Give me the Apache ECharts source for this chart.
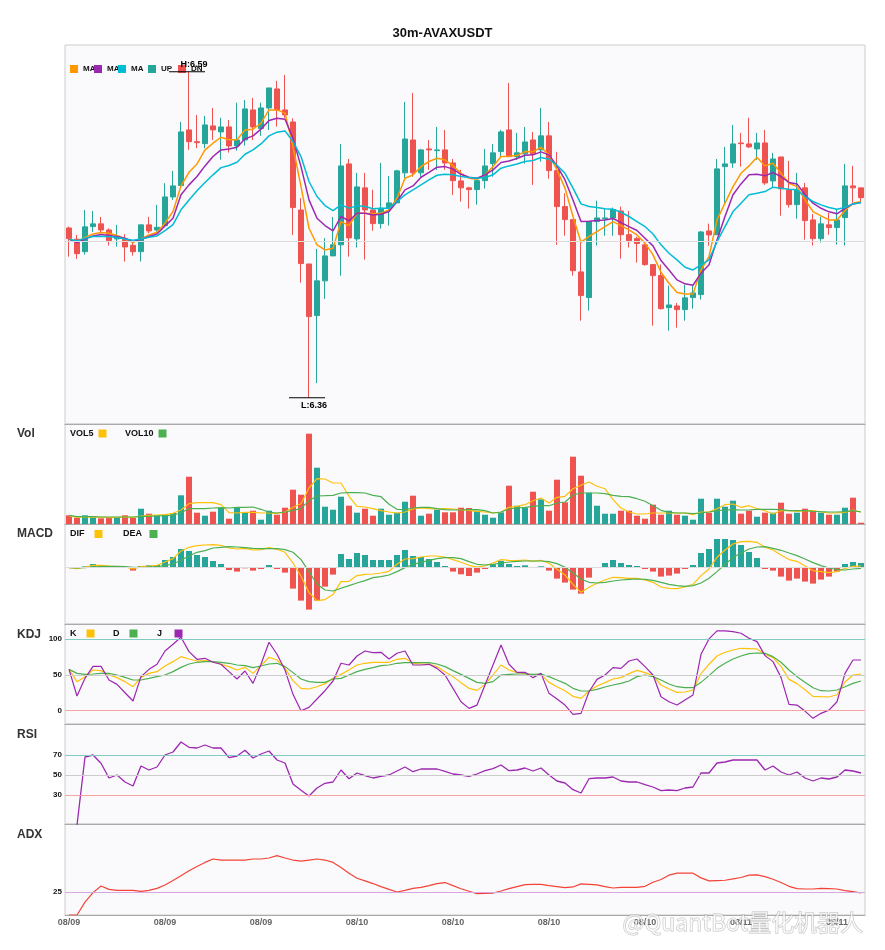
<!DOCTYPE html>
<html lang="en">
<head>
<meta charset="UTF-8">
<title>30m-AVAXUSDT</title>
<script src="https://cdn.jsdelivr.net/npm/echarts/dist/echarts.min.js"></script>
<style>
  html, body { margin: 0; padding: 0; background: #fff; }
  #main { width: 885px; height: 950px; }
</style>
</head>
<body>
<div id="main"></div>
<script>
// candles: [open, close, low, high]
const ohlc = [
  [6.4797, 6.4722, 6.4595, 6.4807], [6.4718, 6.4616, 6.4579, 6.4748], [6.4630, 6.4805, 6.4609, 6.4924],
  [6.4807, 6.4826, 6.4769, 6.4917], [6.4826, 6.4783, 6.4760, 6.4875], [6.4783, 6.4708, 6.4673, 6.4795],
  [6.4720, 6.4732, 6.4666, 6.4819], [6.4720, 6.4663, 6.4560, 6.4753], [6.4675, 6.4630, 6.4602, 6.4694],
  [6.4630, 6.4819, 6.4560, 6.4819], [6.4819, 6.4776, 6.4760, 6.4875], [6.4783, 6.4802, 6.4771, 6.4960],
  [6.4814, 6.5016, 6.4807, 6.5113], [6.5016, 6.5094, 6.4995, 6.5200], [6.5096, 6.5475, 6.5089, 6.5545],
  [6.5489, 6.5406, 6.5348, 6.5900], [6.5406, 6.5399, 6.5360, 6.5595], [6.5392, 6.5524, 6.5360, 6.5588],
  [6.5517, 6.5489, 6.5418, 6.5644], [6.5475, 6.5510, 6.5279, 6.5574], [6.5510, 6.5376, 6.5329, 6.5559],
  [6.5376, 6.5418, 6.5343, 6.5681], [6.5418, 6.5637, 6.5378, 6.5700], [6.5630, 6.5510, 6.5418, 6.5715],
  [6.5498, 6.5644, 6.5447, 6.5681], [6.5644, 6.5785, 6.5489, 6.5785], [6.5778, 6.5630, 6.5512, 6.5835],
  [6.5630, 6.5595, 6.5574, 6.5877], [6.5545, 6.4941, 6.4748, 6.5571], [6.4924, 6.4546, 6.4412, 6.5007],
  [6.4543, 6.4172, 6.3600, 6.4543], [6.4179, 6.4424, 6.3702, 6.4649], [6.4424, 6.4600, 6.4297, 6.4725],
  [6.4600, 6.4678, 6.4600, 6.4875], [6.4678, 6.5235, 6.4461, 6.5390], [6.5249, 6.4727, 6.4595, 6.5284],
  [6.4720, 6.5087, 6.4659, 6.5186], [6.5080, 6.4924, 6.4574, 6.5186], [6.4924, 6.4828, 6.4778, 6.5066],
  [6.4828, 6.4936, 6.4793, 6.5256], [6.4936, 6.4974, 6.4814, 6.5164], [6.4974, 6.5200, 6.4972, 6.5207],
  [6.5186, 6.5425, 6.5148, 6.5686], [6.5418, 6.5186, 6.5159, 6.5750], [6.5186, 6.5348, 6.5159, 6.5355],
  [6.5355, 6.5348, 6.5207, 6.5418], [6.5343, 6.5348, 6.5207, 6.5510], [6.5348, 6.5256, 6.5207, 6.5489],
  [6.5256, 6.5131, 6.5030, 6.5284], [6.5129, 6.5080, 6.4983, 6.5207], [6.5080, 6.5068, 6.4934, 6.5087],
  [6.5068, 6.5131, 6.4962, 6.5148], [6.5131, 6.5235, 6.5075, 6.5355], [6.5251, 6.5327, 6.5159, 6.5390],
  [6.5336, 6.5475, 6.5291, 6.5489], [6.5489, 6.5300, 6.5300, 6.5820], [6.5300, 6.5327, 6.5277, 6.5468],
  [6.5320, 6.5404, 6.5251, 6.5510], [6.5418, 6.5320, 6.5101, 6.5475], [6.5348, 6.5447, 6.5265, 6.5644],
  [6.5447, 6.5202, 6.5145, 6.5545], [6.5202, 6.4948, 6.4678, 6.5334], [6.4948, 6.4856, 6.4743, 6.5042],
  [6.4856, 6.4496, 6.4461, 6.4856], [6.4487, 6.4320, 6.4143, 6.4701], [6.4306, 6.4842, 6.4214, 6.4842],
  [6.4842, 6.4868, 6.4673, 6.4990], [6.4863, 6.4868, 6.4743, 6.4934], [6.4868, 6.4927, 6.4743, 6.4941],
  [6.4917, 6.4750, 6.4581, 6.4948], [6.4750, 6.4708, 6.4659, 6.4917], [6.4722, 6.4687, 6.4553, 6.4736],
  [6.4678, 6.4539, 6.4531, 6.4687], [6.4539, 6.4461, 6.4108, 6.4539], [6.4461, 6.4228, 6.4221, 6.4539],
  [6.4235, 6.4254, 6.4073, 6.4390], [6.4247, 6.4221, 6.4094, 6.4268], [6.4221, 6.4304, 6.4143, 6.4397],
  [6.4306, 6.4339, 6.4228, 6.4397], [6.4327, 6.4769, 6.4292, 6.4776], [6.4776, 6.4748, 6.4673, 6.4828],
  [6.4750, 6.5214, 6.4750, 6.5284], [6.5230, 6.5249, 6.4967, 6.5369], [6.5256, 6.5390, 6.5221, 6.5524],
  [6.5397, 6.5392, 6.5230, 6.5468], [6.5390, 6.5369, 6.5362, 6.5574], [6.5355, 6.5397, 6.5277, 6.5468],
  [6.5397, 6.5115, 6.5101, 6.5489], [6.5129, 6.5284, 6.5080, 6.5327], [6.5298, 6.5073, 6.4884, 6.5298],
  [6.5066, 6.4962, 6.4941, 6.5270], [6.4962, 6.5066, 6.4863, 6.5186], [6.5080, 6.4849, 6.4715, 6.5115],
  [6.4854, 6.4722, 6.4673, 6.4896], [6.4722, 6.4826, 6.4694, 6.4877], [6.4819, 6.4800, 6.4750, 6.4903],
  [6.4800, 6.4854, 6.4680, 6.4924], [6.4870, 6.5094, 6.4673, 6.5249], [6.5094, 6.5080, 6.4976, 6.5235],
  [6.5080, 6.5011, 6.4983, 6.5080]
];

const ma5 = [
  6.4720, 6.4701, 6.4730, 6.4755, 6.4765, 6.4760, 6.4744, 6.4720, 6.4694, 6.4720,
  6.4748, 6.4767, 6.4831, 6.4913, 6.5094, 6.5190, 6.5249, 6.5348, 6.5395, 6.5437,
  6.5419, 6.5419, 6.5489, 6.5494, 6.5536, 6.5630, 6.5630, 6.5607, 6.5372, 6.5089,
  6.4795, 6.4678, 6.4642, 6.4654, 6.4842, 6.4814, 6.4901, 6.4901, 6.4897, 6.4901,
  6.4925, 6.5007, 6.5148, 6.5172, 6.5230, 6.5266, 6.5289, 6.5278, 6.5235, 6.5183,
  6.5148, 6.5141, 6.5172, 6.5230, 6.5301, 6.5303, 6.5308, 6.5336, 6.5334, 6.5367,
  6.5313, 6.5207, 6.5078, 6.4878, 6.4697, 6.4737, 6.4772, 6.4807, 6.4842, 6.4814,
  6.4784, 6.4748, 6.4690, 6.4607, 6.4485, 6.4407, 6.4342, 6.4332, 6.4332, 6.4501,
  6.4595, 6.4854, 6.4972, 6.5089, 6.5183, 6.5235, 6.5296, 6.5235, 6.5254, 6.5183,
  6.5113, 6.5089, 6.4995, 6.4913, 6.4882, 6.4854, 6.4854, 6.4920, 6.4972, 6.4984
];
const ma10 = [
  6.4718, 6.4694, 6.4718, 6.4741, 6.4751, 6.4744, 6.4737, 6.4725, 6.4701, 6.4718,
  6.4737, 6.4755, 6.4812, 6.4866, 6.5031, 6.5101, 6.5160, 6.5235, 6.5301, 6.5348,
  6.5355, 6.5367, 6.5426, 6.5447, 6.5494, 6.5555, 6.5571, 6.5564, 6.5430, 6.5230,
  6.4995, 6.4866, 6.4814, 6.4777, 6.4878, 6.4847, 6.4901, 6.4901, 6.4889, 6.4894,
  6.4913, 6.4984, 6.5066, 6.5094, 6.5155, 6.5190, 6.5226, 6.5230, 6.5212, 6.5176,
  6.5155, 6.5148, 6.5172, 6.5207, 6.5259, 6.5270, 6.5287, 6.5310, 6.5313, 6.5334,
  6.5313, 6.5235, 6.5136, 6.4995, 6.4842, 6.4845, 6.4850, 6.4854, 6.4864, 6.4835,
  6.4807, 6.4779, 6.4725, 6.4671, 6.4567, 6.4501, 6.4431, 6.4403, 6.4393, 6.4478,
  6.4537, 6.4713, 6.4878, 6.5031, 6.5108, 6.5172, 6.5176, 6.5165, 6.5188, 6.5160,
  6.5118, 6.5108, 6.5031, 6.4972, 6.4936, 6.4911, 6.4897, 6.4936, 6.4967, 6.4976
];
const ma20 = [
  6.4718, 6.4706, 6.4725, 6.4737, 6.4737, 6.4737, 6.4730, 6.4720, 6.4711, 6.4720,
  6.4732, 6.4741, 6.4779, 6.4821, 6.4925, 6.4995, 6.5059, 6.5118, 6.5172, 6.5223,
  6.5238, 6.5261, 6.5317, 6.5348, 6.5390, 6.5447, 6.5473, 6.5482, 6.5407, 6.5301,
  6.5125, 6.5019, 6.4955, 6.4920, 6.4960, 6.4937, 6.4953, 6.4948, 6.4932, 6.4937,
  6.4937, 6.4984, 6.5031, 6.5066, 6.5101, 6.5136, 6.5169, 6.5176, 6.5172, 6.5160,
  6.5153, 6.5148, 6.5153, 6.5172, 6.5219, 6.5235, 6.5249, 6.5266, 6.5273, 6.5294,
  6.5282, 6.5240, 6.5183, 6.5078, 6.4967, 6.4948, 6.4941, 6.4932, 6.4929, 6.4908,
  6.4878, 6.4842, 6.4807, 6.4755, 6.4678, 6.4619, 6.4572, 6.4520, 6.4501, 6.4537,
  6.4572, 6.4701, 6.4807, 6.4913, 6.4972, 6.5031, 6.5042, 6.5054, 6.5085, 6.5078,
  6.5071, 6.5066, 6.5019, 6.4984, 6.4960, 6.4941, 6.4929, 6.4941, 6.4967, 6.4976
];

// volume (k)
const vol = [
  8.7, 6.0, 8.7, 7.3, 5.7, 6.3, 7.0, 8.7, 6.0, 15.3,
  10.3, 8.7, 9.3, 11.0, 28.7, 47.3, 11.3, 8.3, 12.3, 16.0,
  5.3, 16.0, 11.7, 13.3, 4.3, 13.3, 9.3, 16.3, 34.3, 29.3,
  90.3, 56.3, 17.3, 14.3, 27.3, 18.3, 11.3, 15.3, 8.3, 15.3,
  9.3, 11.3, 22.3, 28.3, 8.3, 10.3, 14.3, 11.7, 11.7, 16.3,
  16.0, 13.3, 9.3, 6.3, 11.7, 38.3, 18.3, 16.3, 32.3, 24.7,
  13.3, 44.3, 21.7, 67.3, 48.3, 31.3, 18.3, 10.3, 10.3, 13.3,
  13.3, 8.3, 5.3, 19.3, 9.3, 13.3, 9.3, 8.3, 4.3, 25.3,
  11.3, 25.3, 17.3, 23.3, 10.3, 13.3, 7.3, 11.3, 11.3, 21.3,
  10.3, 11.3, 15.3, 13.3, 11.3, 9.3, 9.3, 16.3, 26.3, 1.3
];
const vol5 = [
  8.0, 6.7, 7.3, 6.7, 7.0, 6.3, 6.7, 7.0, 6.7, 8.0,
  8.7, 9.0, 9.3, 10.7, 14.0, 20.3, 21.3, 21.3, 21.3, 19.3,
  11.3, 11.0, 11.7, 11.7, 11.0, 11.0, 10.7, 12.0, 16.7, 20.3,
  36.0, 45.3, 45.0, 41.0, 41.0, 27.7, 17.7, 17.0, 15.3, 13.3,
  12.0, 11.0, 12.0, 15.0, 16.0, 15.3, 15.0, 15.3, 15.0, 14.0,
  13.7, 12.7, 12.0, 11.0, 11.7, 16.7, 17.7, 19.3, 23.3, 26.0,
  21.0, 26.7, 27.7, 35.3, 38.7, 42.0, 37.7, 35.3, 24.3, 16.0,
  12.0, 10.0, 10.0, 11.0, 11.0, 11.0, 11.0, 11.0, 9.3, 12.0,
  12.0, 15.3, 19.3, 20.0, 16.7, 18.3, 15.3, 13.3, 10.0, 13.3,
  13.3, 12.7, 13.3, 13.3, 12.0, 11.0, 11.0, 11.7, 14.0, 12.0
];
const vol10 = [
  8.7, 7.3, 7.3, 7.3, 7.0, 7.0, 7.0, 7.0, 7.0, 7.7,
  7.7, 8.0, 8.3, 8.7, 11.3, 15.3, 15.3, 15.3, 16.0, 16.3,
  16.0, 16.7, 16.7, 17.0, 14.7, 11.7, 11.0, 12.0, 13.7, 15.3,
  23.3, 28.0, 28.3, 28.7, 31.0, 31.3, 31.3, 31.0, 28.7, 27.3,
  19.7, 14.7, 14.3, 16.0, 16.7, 16.7, 15.3, 14.3, 14.0, 14.0,
  14.3, 14.3, 13.3, 11.0, 12.0, 15.0, 16.0, 16.7, 17.7, 18.3,
  18.3, 21.0, 22.0, 29.0, 31.0, 31.0, 31.0, 30.3, 28.7, 27.7,
  27.3, 25.3, 22.7, 18.3, 13.7, 11.7, 11.0, 11.0, 10.3, 11.0,
  12.0, 13.3, 14.0, 14.3, 14.0, 14.0, 14.7, 14.7, 14.7, 14.3,
  13.3, 13.3, 13.3, 12.7, 12.3, 12.0, 12.0, 12.3, 13.3, 12.0
];

// MACD (x1e-4)
const dif = [
  -0.3, -1.3, 0.3, 2.0, 2.0, 1.3, 0.7, 0.3, -1.7, 0.7,
  1.3, 2.0, 5.3, 8.7, 16.3, 20.0, 21.7, 22.3, 22.7, 22.0,
  19.3, 18.3, 19.0, 17.3, 17.7, 19.7, 18.0, 15.0, 4.3, -9.0,
  -25.3, -33.3, -32.3, -27.3, -14.3, -14.0, -8.3, -7.0, -6.7, -5.7,
  -4.0, 3.0, 8.3, 8.7, 10.3, 11.3, 11.3, 10.3, 7.7, 5.0,
  2.0, 0.3, 1.5, 4.3, 7.7, 7.0, 6.7, 7.3, 6.0, 7.0,
  4.0, -2.0, -7.7, -17.0, -25.0, -20.0, -16.0, -12.7, -10.0, -10.3,
  -11.0, -11.0, -12.7, -15.0, -19.7, -21.0, -21.3, -19.7, -17.0, -8.3,
  -1.7, 10.0, 17.3, 23.3, 25.7, 26.0, 25.0, 20.0, 17.3, 12.3,
  7.7, 6.0, 1.3, -3.3, -4.3, -5.3, -4.3, -1.0, 1.0, 1.3
];
const dea = [
  -0.3, -0.7, -0.3, 0.3, 1.0, 1.0, 1.0, 0.7, 0, 0,
  0.3, 0.7, 1.7, 3.3, 7.0, 11.3, 15.0, 16.7, 19.3, 20.0,
  20.7, 20.3, 19.7, 19.0, 18.7, 18.7, 18.7, 17.7, 15.0, 7.7,
  -4.3, -16.7, -22.7, -23.7, -21.0, -18.3, -15.7, -13.3, -10.3, -9.3,
  -7.7, -4.3, -0.3, 3.0, 5.0, 7.0, 8.7, 9.7, 9.7, 8.7,
  5.7, 3.0, 2.3, 3.0, 4.3, 5.3, 6.0, 6.3, 6.3, 6.3,
  5.7, 3.7, 0, -5.7, -11.7, -15.0, -15.7, -15.0, -13.7, -12.7,
  -12.0, -11.7, -12.0, -13.0, -15.0, -17.0, -18.3, -19.0, -18.3, -15.7,
  -11.0, -4.3, 3.0, 9.7, 14.3, 18.3, 20.3, 20.7, 19.0, 17.0,
  14.3, 11.7, 8.3, 4.7, 1.7, -0.7, -2.3, -2.7, -1.7, -1.0
];
const hist = [
  0.3, -1.0, 1.0, 3.3, 2.0, 1.0, -0.7, -0.3, -3.3, 1.3,
  2.0, 2.3, 7.3, 10.3, 18.3, 16.3, 12.3, 10.3, 6.3, 3.3,
  -2.7, -4.3, -1.0, -3.3, -1.7, 2.3, -1.7, -5.3, -21.3, -33.3,
  -42.3, -33.3, -19.3, -7.3, 13.3, 8.3, 14.3, 12.3, 7.3, 7.3,
  7.3, 12.3, 17.3, 11.3, 10.3, 8.3, 5.3, 1.3, -4.3, -7.0,
  -8.7, -5.3, -1.7, 3.0, 6.3, 3.3, 1.3, 2.0, -0.7, 1.0,
  -3.3, -11.3, -15.3, -22.3, -26.3, -10.3, -0.7, 4.3, 7.3, 4.3,
  2.3, 1.3, -1.7, -4.3, -9.3, -8.3, -6.3, -1.7, 2.3, 14.3,
  18.3, 28.3, 28.3, 27.3, 22.3, 15.3, 9.3, -1.7, -3.3, -9.3,
  -13.3, -11.3, -14.3, -16.3, -12.3, -9.3, -4.3, 3.3, 5.3, 4.3
];

const kLine = [
  57.9, 40.7, 47.7, 57.0, 56.1, 50.0, 46.3, 40.7, 33.6, 46.7,
  52.3, 54.7, 62.6, 68.7, 75.7, 72.4, 69.6, 70.1, 68.7, 65.0,
  61.7, 57.0, 60.7, 52.3, 63.1, 74.8, 71.0, 59.3, 42.1, 31.3,
  30.4, 33.6, 37.9, 45.3, 50.9, 57.0, 64.0, 66.4, 67.8, 67.8,
  67.8, 72.0, 73.4, 66.4, 65.4, 65.4, 61.7, 54.7, 47.7, 39.3,
  31.3, 28.5, 36.9, 50.0, 64.0, 57.0, 53.3, 52.3, 50.0, 50.9,
  39.7, 33.6, 28.0, 20.1, 17.3, 27.6, 34.6, 39.3, 44.4, 46.3,
  51.9, 56.5, 53.3, 49.1, 36.0, 30.4, 25.7, 26.2, 29.0, 51.9,
  65.0, 76.6, 81.8, 85.0, 87.4, 86.9, 86.4, 79.0, 74.3, 62.1,
  43.9, 37.9, 29.4, 20.1, 19.6, 19.2, 22.4, 40.2, 50.0, 51.4
];
const dLine = [
  57.9, 52.3, 50.9, 51.4, 52.3, 52.3, 50.0, 46.7, 43.0, 43.0,
  45.3, 47.7, 50.0, 54.7, 60.7, 65.4, 67.8, 68.7, 68.7, 67.8,
  66.4, 64.0, 63.1, 60.3, 62.6, 65.4, 66.4, 61.7, 53.3, 44.4,
  40.7, 39.7, 39.7, 44.4, 45.3, 50.0, 54.7, 57.9, 60.3, 63.1,
  64.0, 66.4, 67.3, 67.3, 67.3, 67.3, 65.4, 61.7, 56.1, 50.9,
  45.3, 39.7, 38.3, 40.7, 50.0, 50.9, 51.4, 51.4, 50.9, 51.4,
  47.7, 43.0, 38.3, 31.3, 27.6, 27.6, 29.9, 33.2, 36.0, 38.3,
  41.6, 47.7, 50.0, 47.7, 43.0, 37.4, 33.6, 32.2, 32.2, 39.7,
  49.1, 59.3, 66.4, 72.4, 76.6, 79.9, 80.8, 80.4, 75.7, 67.8,
  57.0, 47.7, 39.7, 32.2, 28.0, 27.6, 29.0, 33.6, 38.3, 41.6
];
const jLine = [
  57.9, 20.6, 45.3, 62.1, 62.1, 43.0, 36.9, 25.2, 13.6, 47.7,
  57.9, 65.0, 83.6, 93.0, 102.8, 82.7, 72.0, 73.4, 67.8, 65.0,
  54.7, 44.4, 55.6, 38.3, 65.0, 95.8, 79.0, 57.0, 22.9, 0.0,
  4.7, 16.4, 28.0, 41.6, 66.4, 64.0, 76.6, 83.6, 81.3, 81.8,
  72.4, 80.4, 83.6, 64.0, 64.0, 65.0, 59.3, 50.0, 31.3, 12.6,
  3.3, 7.9, 36.0, 64.0, 92.1, 65.0, 53.7, 53.7, 46.3, 52.3,
  24.3, 16.4, 7.9, -5.1, -3.7, 26.6, 43.9, 50.0, 60.3, 59.3,
  69.6, 72.4, 61.7, 50.0, 19.6, 12.6, 7.9, 15.0, 22.0, 79.0,
  100.5, 111.7, 111.7, 110.7, 108.4, 101.4, 96.7, 77.1, 68.7, 46.7,
  8.9, 7.9, -0.5, -10.7, -3.7, 0.9, 12.6, 52.3, 71.0, 71.0
];

const rsi = [
  '-', 0, 68, 70, 61.7, 47, 50, 43, 39, 59,
  55, 58, 70, 73, 83, 77.7, 77, 80, 77, 77,
  67.3, 69, 74.7, 67, 71, 74, 65, 62, 41, 34.7,
  29, 37, 41.7, 43, 55, 46.3, 52, 49.3, 47, 48.7,
  50, 54, 58, 53.3, 56, 56, 56, 53.7, 51, 50,
  48.7, 51, 54.3, 56.3, 60, 54.3, 55, 57, 54, 57,
  50, 44, 42, 35.3, 32, 46.3, 47, 47, 48, 44,
  43, 43, 40.3, 38, 34.3, 35, 34.3, 37, 38, 52,
  52, 62, 63, 65, 65, 65, 65, 55, 59, 53,
  50, 53, 47, 44, 47, 46, 48, 55, 54, 52
];
const adx = [
  0, 0, 14.0, 24.3, 31.6, 27.9, 26.8, 26.8, 26.8, 25.7,
  26.8, 29.0, 32.7, 37.5, 42.6, 48.1, 52.8, 57.2, 60.9, 59.8,
  59.8, 59.8, 59.8, 60.9, 60.9, 62.0, 64.6, 62.0, 59.8, 58.7,
  59.8, 60.9, 59.8, 57.2, 51.7, 45.5, 40.0, 37.1, 34.2, 30.9,
  27.9, 25.0, 26.8, 29.0, 30.1, 32.0, 34.2, 35.3, 32.0, 28.6,
  25.8, 23.2, 23.5, 23.9, 26.1, 28.7, 30.9, 33.1, 33.4, 33.4,
  32.0, 30.9, 29.8, 30.5, 33.8, 33.4, 32.7, 30.9, 29.4, 30.1,
  30.1, 30.1, 31.2, 35.6, 38.6, 43.3, 45.5, 45.5, 45.5, 40.4,
  37.1, 37.5, 37.8, 39.3, 40.8, 43.3, 43.7, 41.8, 38.9, 35.3,
  31.2, 28.7, 28.3, 28.3, 29.0, 28.7, 28.3, 26.5, 25.4, 23.9
];

// 30 minute bars starting 08/09 08:00
const times = [];
for (let i = 0; i < ohlc.length; i++) {
  const t = new Date(Date.UTC(2023, 7, 9, 8, 0) + i * 1800000);
  const p = n => String(n).padStart(2, '0');
  times.push(p(t.getUTCMonth() + 1) + '/' + p(t.getUTCDate()) + ' ' + p(t.getUTCHours()) + ':' + p(t.getUTCMinutes()));
}

const UP = '#26a69a', DN = '#ef5350';
const YEL = '#ffc107', GRN = '#4caf50', PUR = '#9c27b0';
const isUp = ohlc.map(d => d[1] >= d[0]);
const empty = ['-', '-', '-', '-'];
const upData = ohlc.map((d, i) => isUp[i] ? d : empty);
const dnData = ohlc.map((d, i) => isUp[i] ? empty : d);

let hiIdx = 0, loIdx = 0;
ohlc.forEach((d, i) => {
  if (d[3] > ohlc[hiIdx][3]) hiIdx = i;
  if (d[2] < ohlc[loIdx][2]) loIdx = i;
});

function line(name, data, color, idx, width) {
  return {
    type: 'line', name: name, data: data, xAxisIndex: idx, yAxisIndex: idx,
    symbol: 'none', showSymbol: false, animation: false, z: 3,
    lineStyle: { color: color, width: width || 1.2 }, itemStyle: { color: color }
  };
}
function refLines(list, showLabel) {
  return {
    silent: true, symbol: 'none', animation: false,
    label: { show: showLabel, position: 'start', distance: 3, fontSize: 8, fontWeight: 'bold', color: '#111' },
    data: list.map(r => ({ yAxis: r[0], lineStyle: { color: r[1], width: 1, type: 'solid' } }))
  };
}
function lg(name, left, top, color, align, text) {
  return {
    data: [{ name: name, itemStyle: { color: color, borderWidth: 0 } }],
    left: left, top: top, padding: 0, itemWidth: 8, itemHeight: 8, icon: 'rect',
    align: align, selectedMode: false, formatter: () => text,
    textStyle: { fontSize: align === 'left' ? 8 : 9, fontWeight: 'bold', color: '#111' }
  };
}

const gridTops = [45, 424, 524, 624, 724, 824];
const gridHeights = [379, 100, 100, 100, 100, 91];
const yRanges = [[6.3414, 6.6088], [0, 100], [-56.7, 43.3], [-18.6, 121.4], [1, 101], [0, 99]];
const panelNames = ['Vol', 'MACD', 'KDJ', 'RSI', 'ADX'];
const panelTitleTops = [428, 528, 628.7, 728.4, 828.4];

const titleStyle = { fontSize: 12, fontWeight: 'bold', color: '#333' };

const option = {
  backgroundColor: '#fff',
  animation: false,
  title: [{
    text: '30m-AVAXUSDT', left: 'center', top: 27, padding: 0,
    textStyle: { fontSize: 13, fontWeight: 'bold', color: '#111' }
  }].concat(panelNames.map((t, i) => ({ text: t, left: 17, top: panelTitleTops[i], padding: 0, textStyle: titleStyle }))),
  legend: [
    lg('MA5', 70, 65, '#ff9800', 'left', 'MA'),
    lg('MA10', 94, 65, PUR, 'left', 'MA'),
    lg('MA20', 118, 65, '#00bcd4', 'left', 'MA'),
    lg('UP', 148, 65, UP, 'left', 'UP'),
    lg('DN', 178, 65, DN, 'left', 'DN'),
    lg('VOL5', 70, 429, YEL, 'right', 'VOL5'),
    lg('VOL10', 125, 429, GRN, 'right', 'VOL10'),
    lg('DIF', 70, 529.5, YEL, 'right', 'DIF  '),
    lg('DEA', 123, 529.5, GRN, 'right', 'DEA '),
    lg('K', 70, 629, YEL, 'right', 'K  '),
    lg('D', 113, 629, GRN, 'right', 'D  '),
    lg('J', 157, 629, PUR, 'right', 'J   ')
  ],
  grid: gridTops.map((t, i) => ({
    left: 65, right: 20, top: t, height: gridHeights[i],
    show: true, backgroundColor: '#fafafc', borderColor: '#ccc', borderWidth: 1,
    containLabel: false, outerBoundsMode: 'none'
  })),
  xAxis: gridTops.map((t, i) => ({
    type: 'category', gridIndex: i, data: times, boundaryGap: true,
    axisLine: { show: true, onZero: false, lineStyle: { color: '#aaa' } },
    axisTick: { show: false },
    splitLine: { show: false },
    axisLabel: {
      show: i === 5, interval: 11, margin: 3, fontSize: 9, fontWeight: 'bold', color: '#666',
      formatter: v => v.slice(0, 5)
    }
  })),
  yAxis: yRanges.map((r, i) => ({
    type: 'value', gridIndex: i, min: r[0], max: r[1], show: false, splitLine: { show: false }
  })),
  series: [
    {
      type: 'candlestick', name: 'UP', data: upData, xAxisIndex: 0, yAxisIndex: 0,
      barWidth: 5, animation: false,
      itemStyle: { color: UP, color0: UP, borderColor: UP, borderColor0: UP, borderWidth: 1 },
      markLine: refLines([[6.4746, '#ddd']], false)
    },
    {
      type: 'candlestick', name: 'DN', data: dnData, xAxisIndex: 0, yAxisIndex: 0,
      barWidth: 5, animation: false,
      itemStyle: { color: DN, color0: DN, borderColor: DN, borderColor0: DN, borderWidth: 1 },
      markPoint: {
        symbol: 'rect', symbolSize: [36, 1], symbolOffset: [-2, 0], silent: true, animation: false,
        itemStyle: { color: '#000' },
        label: { show: true, formatter: '{b}', color: '#000', fontSize: 9, fontWeight: 'bold', offset: [7, 0] },
        data: [
          { name: 'H:' + ohlc[hiIdx][3].toFixed(2), coord: [hiIdx, ohlc[hiIdx][3]], label: { position: 'top', distance: 2 } },
          { name: 'L:' + ohlc[loIdx][2].toFixed(2), coord: [loIdx, ohlc[loIdx][2]], label: { position: 'bottom', distance: 3 } }
        ]
      }
    },
    line('MA5', ma5, '#ff9800', 0, 1.5),
    line('MA10', ma10, PUR, 0, 1.5),
    line('MA20', ma20, '#00bcd4', 0, 1.5),
    {
      type: 'bar', name: 'Vol', xAxisIndex: 1, yAxisIndex: 1, barWidth: 6, animation: false,
      data: vol.map((v, i) => ({ value: v, itemStyle: { color: isUp[i] ? UP : DN } }))
    },
    line('VOL5', vol5, YEL, 1),
    line('VOL10', vol10, GRN, 1),
    Object.assign({
      type: 'bar', name: 'MACD', xAxisIndex: 2, yAxisIndex: 2, barWidth: 6, animation: false,
      data: hist.map(v => ({ value: v, itemStyle: { color: v >= 0 ? UP : DN } }))
    }, { markLine: refLines([[0, '#ddd']], false) }),
    line('DIF', dif, YEL, 2),
    line('DEA', dea, GRN, 2),
    Object.assign(line('K', kLine, YEL, 3), {
      markLine: refLines([[100, '#80cbc4'], [50, '#ccc'], [0, '#f5a3a3']], true)
    }),
    line('D', dLine, GRN, 3),
    line('J', jLine, PUR, 3),
    Object.assign(line('RSI', rsi, PUR, 4, 1.3), {
      markLine: refLines([[70, '#80cbc4'], [50, '#ccc'], [30, '#f5a3a3']], true)
    }),
    Object.assign(line('ADX', adx, '#f44336', 5), {
      markLine: refLines([[25, '#d8a6e0']], true)
    })
  ],
  graphic: [{
    type: 'text', left: 622, top: 910, silent: true, z: 100,
    style: {
      text: '@QuantBot量化机器人',
      font: '23px "Noto Sans CJK SC", "Noto Sans", sans-serif',
      fill: 'rgba(255,255,255,0.7)', stroke: 'rgba(140,140,140,0.55)', lineWidth: 1
    }
  }]
};

const chart = echarts.init(document.getElementById('main'));
chart.setOption(option);
</script>
</body>
</html>
